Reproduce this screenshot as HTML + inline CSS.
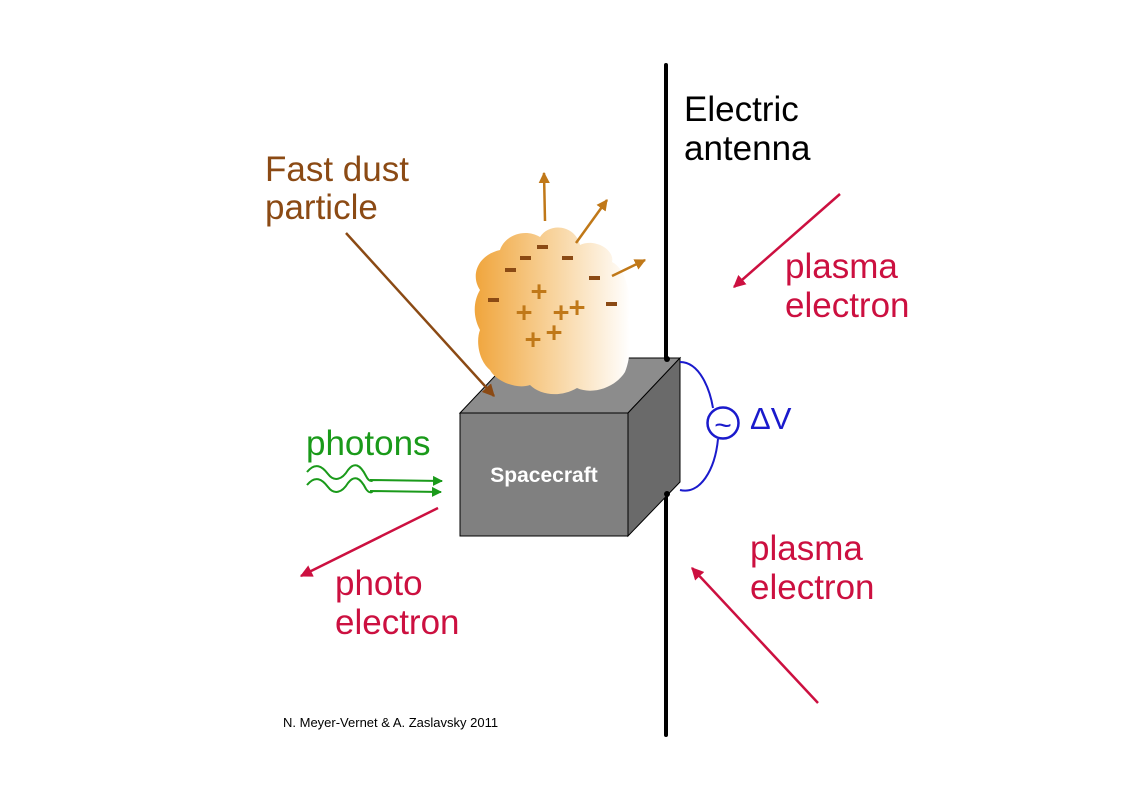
<!DOCTYPE html>
<html><head><meta charset="utf-8"><style>
body{margin:0;background:#fff}
svg{display:block}
text{font-family:"Liberation Sans",Arial,sans-serif}
</style></head><body>
<svg width="1133" height="800" viewBox="0 0 1133 800" xmlns="http://www.w3.org/2000/svg">
<defs>
<linearGradient id="cg" x1="0" x2="1" y1="0" y2="0">
<stop offset="0" stop-color="#f0a53c"/><stop offset="0.5" stop-color="#f8d39c"/><stop offset="1" stop-color="#ffffff"/>
</linearGradient>
<marker id="ar" viewBox="0 0 10 10" refX="9" refY="5" markerWidth="5" markerHeight="5" orient="auto"><path d="M0,0 L10,5 L0,10 z" fill="#cc1040"/></marker>
<marker id="ao" viewBox="0 0 10 10" refX="9" refY="5" markerWidth="4.5" markerHeight="4.5" orient="auto"><path d="M0,0 L10,5 L0,10 z" fill="#c07818"/></marker>
<marker id="ab" viewBox="0 0 10 10" refX="9" refY="5" markerWidth="5" markerHeight="5" orient="auto"><path d="M0,0 L10,5 L0,10 z" fill="#8b4a14"/></marker>
<marker id="ag" viewBox="0 0 10 10" refX="9" refY="5" markerWidth="5" markerHeight="5" orient="auto"><path d="M0,0 L10,5 L0,10 z" fill="#1a9a1a"/></marker>
</defs>
<line x1="666" y1="65" x2="666" y2="735" stroke="#000" stroke-width="4" stroke-linecap="round"/>
<polygon points="460,413 512,358 680,358 628,413" fill="#8c8c8c" stroke="#000" stroke-width="1"/>
<polygon points="628,413 680,358 680,482 628,536" fill="#6a6a6a" stroke="#000" stroke-width="1"/>
<rect x="460" y="413" width="168" height="123" fill="#808080" stroke="#000" stroke-width="1"/>
<path d="M490,370 C478,360 476,340 480,330 C472,315 474,300 480,290 C470,275 478,255 500,250 C505,235 525,228 540,237 C550,222 575,225 580,245 C595,238 615,250 612,262 C628,270 632,300 628,320 C632,340 630,360 625,372 C615,388 592,395 577,388 C560,398 540,395 530,385 C515,390 495,380 490,370 Z" fill="url(#cg)"/>
<text x="544" y="482" font-size="21" font-weight="bold" fill="#fff" text-anchor="middle">Spacecraft</text>
<circle cx="667" cy="359" r="3" fill="#000"/>
<circle cx="667" cy="494" r="3" fill="#000"/>
<g fill="#8b4a14">
<rect x="537" y="245" width="11" height="4"/><rect x="520" y="256" width="11" height="4"/><rect x="562" y="256" width="11" height="4"/>
<rect x="505" y="268" width="11" height="4"/><rect x="589" y="276" width="11" height="4"/><rect x="488" y="298" width="11" height="4"/><rect x="606" y="302" width="11" height="4"/>
</g>
<g fill="#c07818" stroke="#c07818" stroke-width="1" font-size="28" text-anchor="middle">
<text x="539" y="301">+</text><text x="524" y="322">+</text><text x="561" y="322">+</text><text x="577" y="317">+</text><text x="533" y="349">+</text><text x="554" y="342">+</text>
</g>
<g stroke="#c07818" stroke-width="2.5" fill="none">
<line x1="545" y1="221" x2="544" y2="173" marker-end="url(#ao)"/>
<line x1="576" y1="243" x2="607" y2="200" marker-end="url(#ao)"/>
<line x1="612" y1="276" x2="645" y2="260" marker-end="url(#ao)"/>
</g>
<line x1="346" y1="233" x2="494" y2="396" stroke="#8b4a14" stroke-width="2.5" marker-end="url(#ab)"/>
<text x="265" y="181" font-size="35" fill="#8b4a14">Fast dust</text>
<text x="265" y="219" font-size="35" fill="#8b4a14">particle</text>
<text x="684" y="121" font-size="35" fill="#000">Electric</text>
<text x="684" y="160" font-size="35" fill="#000">antenna</text>
<line x1="840" y1="194" x2="734" y2="287" stroke="#cc1040" stroke-width="2.5" marker-end="url(#ar)"/>
<text x="785" y="278" font-size="35" fill="#cc1040">plasma</text>
<text x="785" y="317" font-size="35" fill="#cc1040">electron</text>
<line x1="818" y1="703" x2="692" y2="568" stroke="#cc1040" stroke-width="2.5" marker-end="url(#ar)"/>
<text x="750" y="560" font-size="35" fill="#cc1040">plasma</text>
<text x="750" y="599" font-size="35" fill="#cc1040">electron</text>
<line x1="438" y1="508" x2="301" y2="576" stroke="#cc1040" stroke-width="2.5" marker-end="url(#ar)"/>
<text x="335" y="595" font-size="35" fill="#cc1040">photo</text>
<text x="335" y="634" font-size="35" fill="#cc1040">electron</text>
<text x="306" y="455" font-size="35" fill="#1a9a1a">photons</text>
<g stroke="#1a9a1a" stroke-width="2" fill="none">
<path d="M307,472 C315,462 322,466 328,474 C334,482 342,480 348,470 C354,462 360,464 366,476 C370,484 375,480 370,480 L442,481" marker-end="url(#ag)"/>
<path d="M307,485 C315,475 322,479 328,487 C334,495 342,493 348,483 C354,475 360,477 366,489 C370,495 375,491 370,491 L441,492" marker-end="url(#ag)"/>
</g>
<path d="M680,362 C700,362 710,390 713,408" stroke="#1a1acc" stroke-width="2" fill="none"/>
<path d="M718,439 C715,470 700,495 680,490" stroke="#1a1acc" stroke-width="2" fill="none"/>
<circle cx="723" cy="423" r="15.5" stroke="#1a1acc" stroke-width="2.5" fill="none"/>
<text x="723" y="435" font-size="30" fill="#1a1acc" text-anchor="middle">~</text>
<text x="750" y="429" font-size="31" fill="#1a1acc">ΔV</text>
<text x="283" y="727" font-size="13" fill="#000">N. Meyer-Vernet &amp; A. Zaslavsky 2011</text>
</svg>
</body></html>
